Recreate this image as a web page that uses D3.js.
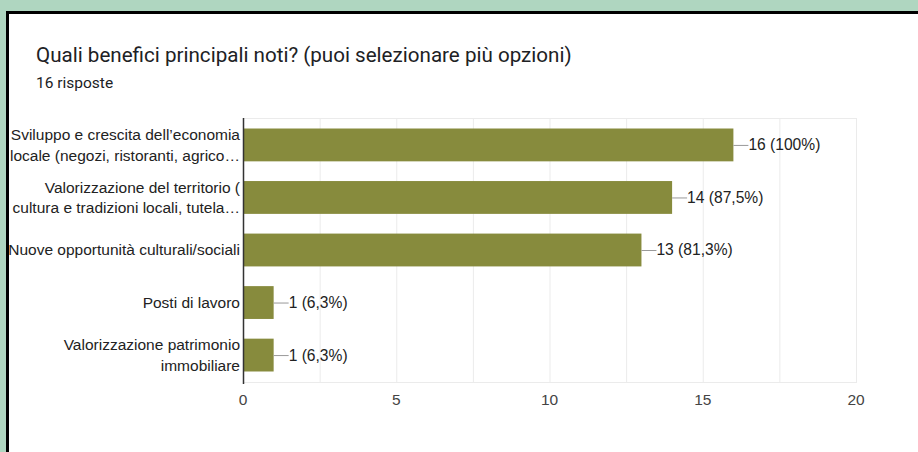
<!DOCTYPE html>
<html>
<head>
<meta charset="utf-8">
<script src="https://cdn.jsdelivr.net/npm/d3@7"></script>
<style>
html,body{margin:0;padding:0;background:#afd6c0;}
svg{display:block;}
</style>
</head>
<body>
<svg id="chart" width="918" height="452"></svg>
<script>
const title = "Quali benefici principali noti? (puoi selezionare più opzioni)";
const subtitle = "16 risposte";
const categories = [
  ["Sviluppo e crescita dell’economia", "locale (negozi, ristoranti, agrico…"],
  ["Valorizzazione del territorio (", "cultura e tradizioni locali, tutela…"],
  ["Nuove opportunità culturali/sociali"],
  ["Posti di lavoro"],
  ["Valorizzazione patrimonio", "immobiliare"]
];
const values = [16, 14, 13, 1, 1];
const valueLabels = ["16 (100%)", "14 (87,5%)", "13 (81,3%)", "1 (6,3%)", "1 (6,3%)"];
const xTicks = [0, 5, 10, 15, 20];
const xGrid = [0, 2.5, 5, 7.5, 10, 12.5, 15, 17.5, 20];

const svg = d3.select("#chart");
// card
svg.append("rect").attr("x", 6).attr("y", 11).attr("width", 918).attr("height", 460).attr("fill", "#000");
svg.append("rect").attr("x", 9).attr("y", 14).attr("width", 918).attr("height", 460).attr("fill", "#fff");

svg.append("text").attr("x", 36).attr("y", 62)
  .attr("font-family", "Roboto").attr("font-size", 20.6).attr("fill", "#202124").text(title);
svg.append("text").attr("x", 36).attr("y", 88)
  .attr("font-family", "Roboto").attr("font-size", 15.5).attr("fill", "#202124").text(subtitle);

const pLeft = 243, pRight = 856, pTop = 118, pBottom = 382;
const x = d3.scaleLinear().domain([0, 20]).range([pLeft, pRight]);
const y = d3.scaleBand().domain(d3.range(values.length)).range([pTop, pBottom])
  .paddingInner(0.375).paddingOuter(0.2);

const g = svg.append("g");
// grid
g.selectAll("line.grid").data(xGrid).join("line")
  .attr("x1", d => x(d) + 0.5).attr("x2", d => x(d) + 0.5)
  .attr("y1", pTop).attr("y2", pBottom).attr("stroke", "#ebebeb");
g.append("line").attr("x1", pLeft).attr("x2", pRight + 1).attr("y1", pTop + 0.5).attr("y2", pTop + 0.5).attr("stroke", "#ebebeb");
g.append("line").attr("x1", pLeft).attr("x2", pRight + 1).attr("y1", pBottom + 0.5).attr("y2", pBottom + 0.5).attr("stroke", "#ebebeb");

// bars
g.selectAll("rect.bar").data(values).join("rect")
  .attr("x", x(0)).attr("y", (d, i) => y(i))
  .attr("width", d => x(d) - x(0)).attr("height", y.bandwidth())
  .attr("fill", "#878b3d");

// axis line
g.append("line").attr("x1", pLeft + 0.5).attr("x2", pLeft + 0.5).attr("y1", pTop).attr("y2", pBottom + 2)
  .attr("stroke", "#333").attr("stroke-width", 1.5);

// value annotations
values.forEach((v, i) => {
  const cy = y(i) + y.bandwidth() / 2;
  g.append("line").attr("x1", x(v)).attr("x2", x(v) + 15).attr("y1", cy + 0.5).attr("y2", cy + 0.5)
    .attr("stroke", "#999");
  g.append("text").attr("x", x(v) + 15).attr("y", cy).attr("dy", "0.35em")
    .attr("font-family", "Liberation Sans, Arial").attr("font-size", 15.6).attr("fill", "#222")
    .text(valueLabels[i]);
});

// category labels
categories.forEach((lines, i) => {
  const cy = y(i) + y.bandwidth() / 2;
  const lh = 20.5;
  lines.forEach((ln, k) => {
    const ly = cy + (k - (lines.length - 1) / 2) * lh;
    g.append("text").attr("x", pLeft - 3).attr("y", ly).attr("dy", "0.35em")
      .attr("text-anchor", "end")
      .attr("font-family", "Liberation Sans, Arial").attr("font-size", 15.5).attr("fill", "#222")
      .text(ln);
  });
});

// x tick labels
g.selectAll("text.tick").data(xTicks).join("text")
  .attr("x", d => x(d)).attr("y", 400).attr("dy", "0.35em").attr("text-anchor", "middle")
  .attr("font-family", "Liberation Sans, Arial").attr("font-size", 15.5).attr("fill", "#444")
  .text(d => d);
</script>
</body>
</html>
